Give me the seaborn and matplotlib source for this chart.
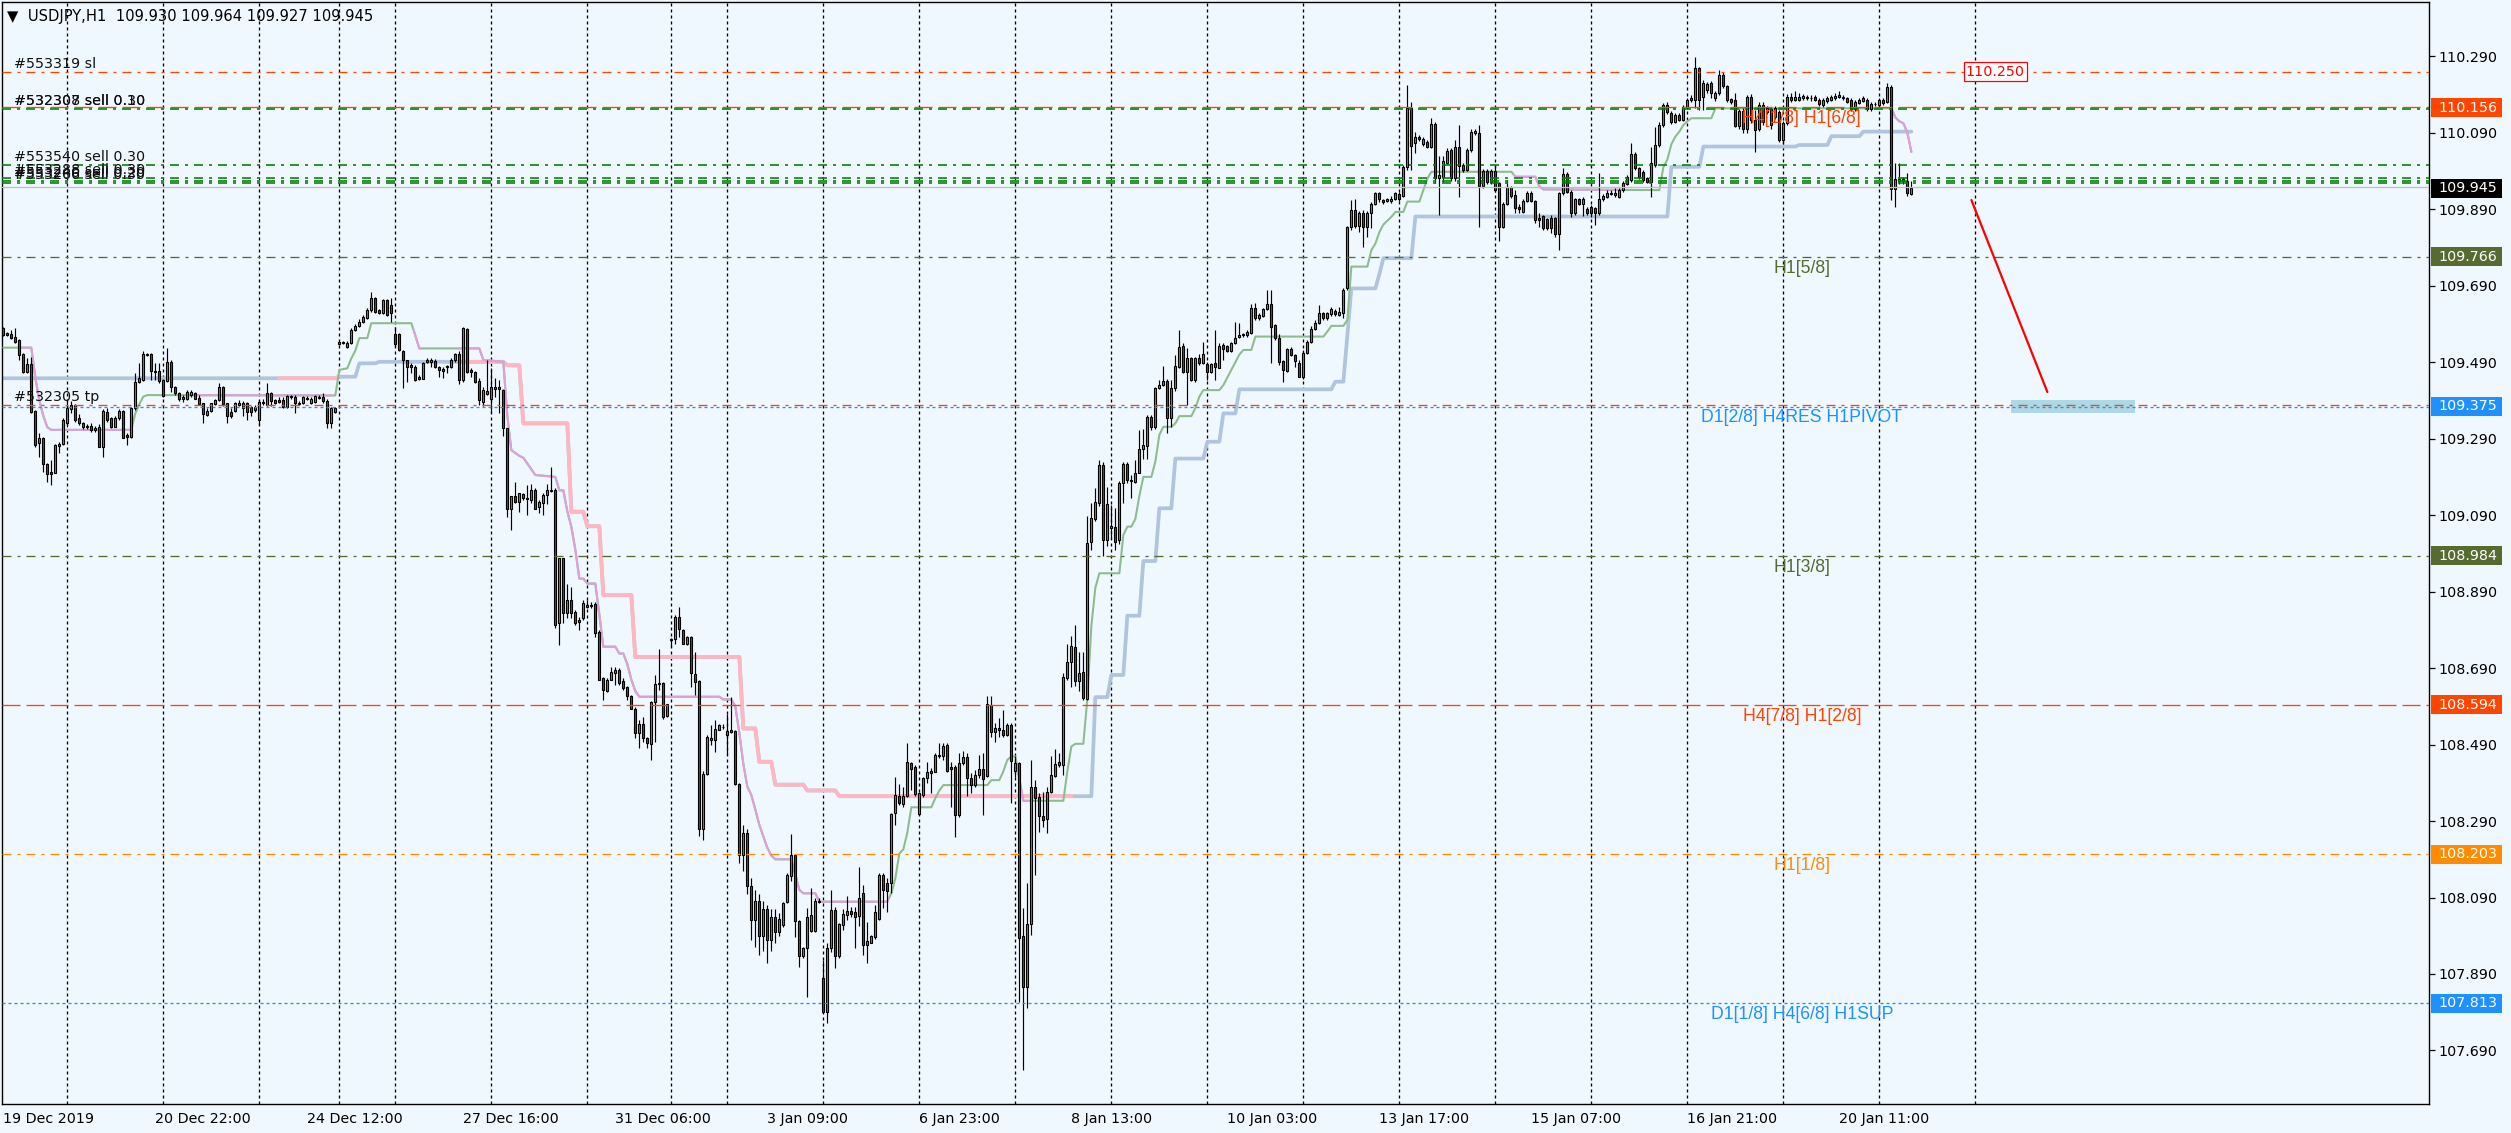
import numpy as np
import matplotlib
matplotlib.use("Agg")
import matplotlib.pyplot as plt
import matplotlib.transforms as mtransforms
from matplotlib.patches import Rectangle
import seaborn as sns

# ---- USDJPY H1 candles, bar 0 = 19 Dec 2019 ----
opens = [
    109.579, 109.567, 109.564, 109.555, 109.548, 109.511, 109.465, 109.485, 109.362, 109.278,
    109.291, 109.224, 109.203, 109.201, 109.271, 109.276, 109.332, 109.368, 109.377, 109.343,
    109.332, 109.323, 109.323, 109.313, 109.321, 109.269, 109.361, 109.343, 109.321, 109.343,
    109.362, 109.300, 109.295, 109.369, 109.439, 109.443, 109.508, 109.511, 109.468, 109.468,
    109.443, 109.442, 109.491, 109.426, 109.409, 109.395, 109.393, 109.404, 109.409, 109.397,
    109.382, 109.352, 109.363, 109.381, 109.391, 109.426, 109.382, 109.361, 109.363, 109.378,
    109.384, 109.384, 109.372, 109.365, 109.339, 109.382, 109.378, 109.409, 109.391, 109.391,
    109.391, 109.372, 109.398, 109.400, 109.381, 109.382, 109.394, 109.384, 109.387, 109.396,
    109.400, 109.389, 109.330, 109.361, 109.538, 109.539, 109.531, 109.539, 109.574, 109.585,
    109.596, 109.605, 109.627, 109.657, 109.627, 109.618, 109.653, 109.640, 109.564, 109.565,
    109.519, 109.496, 109.483, 109.478, 109.452, 109.447, 109.491, 109.491, 109.494, 109.477,
    109.473, 109.480, 109.478, 109.496, 109.511, 109.443, 109.576, 109.470, 109.465, 109.442,
    109.387, 109.408, 109.395, 109.421, 109.424, 109.417, 109.317, 109.107, 109.140, 109.125,
    109.145, 109.134, 109.129, 109.157, 109.110, 109.121, 109.142, 109.154, 109.155, 108.807,
    108.977, 108.835, 108.869, 108.837, 108.811, 108.820, 108.849, 108.855, 108.857, 108.785,
    108.663, 108.631, 108.660, 108.678, 108.685, 108.657, 108.641, 108.617, 108.584, 108.519,
    108.545, 108.508, 108.491, 108.602, 108.648, 108.651, 108.564, 108.763, 108.765, 108.824,
    108.789, 108.754, 108.772, 108.674, 108.657, 108.270, 108.414, 108.501, 108.501, 108.529,
    108.535, 108.515, 108.523, 108.526, 108.388, 108.200, 108.260, 108.120, 108.030, 108.080,
    107.990, 108.060, 107.980, 108.040, 108.000, 108.018, 108.079, 108.146, 108.201, 108.029,
    107.937, 107.957, 108.003, 108.003, 108.078, 107.879, 107.791, 107.957, 108.057, 107.937,
    108.019, 108.044, 108.055, 108.053, 108.042, 108.101, 107.966, 107.972, 107.988, 108.033,
    108.149, 108.129, 108.129, 108.310, 108.356, 108.334, 108.356, 108.441, 108.432, 108.309,
    108.358, 108.402, 108.415, 108.419, 108.459, 108.459, 108.488, 108.431, 108.432, 108.306,
    108.441, 108.457, 108.402, 108.384, 108.411, 108.425, 108.408, 108.593, 108.522, 108.534,
    108.528, 108.515, 108.542, 108.422, 108.441, 107.989, 107.855, 108.020, 108.378, 108.352,
    108.303, 108.295, 108.365, 108.408, 108.437, 108.437, 108.663, 108.707, 108.746, 108.657,
    108.681, 108.609, 109.021, 109.081, 109.121, 109.221, 109.024, 109.056, 109.058, 109.024,
    109.173, 109.225, 109.180, 109.177, 109.201, 109.262, 109.271, 109.347, 109.321, 109.422,
    109.430, 109.441, 109.343, 109.422, 109.478, 109.532, 109.465, 109.500, 109.443, 109.500,
    109.489, 109.485, 109.465, 109.487, 109.476, 109.535, 109.532, 109.520, 109.539, 109.555,
    109.561, 109.561, 109.567, 109.631, 109.605, 109.611, 109.628, 109.642, 109.587, 109.552,
    109.494, 109.468, 109.524, 109.509, 109.489, 109.452, 109.515, 109.544, 109.578, 109.592,
    109.618, 109.605, 109.616, 109.625, 109.613, 109.618, 109.683, 109.843, 109.888, 109.845,
    109.879, 109.843, 109.881, 109.905, 109.932, 109.914, 109.912, 109.912, 109.918, 109.930,
    109.925, 110.001, 110.154, 110.062, 110.078, 110.061, 110.067, 110.054, 110.113, 109.971,
    109.975, 110.012, 110.045, 109.971, 110.052, 110.006, 109.993, 110.045, 110.090, 110.090,
    109.951, 109.991, 109.960, 109.991, 109.959, 109.844, 109.905, 109.947, 109.927, 109.897,
    109.884, 109.912, 109.933, 109.912, 109.866, 109.872, 109.864, 109.866, 109.866, 109.825,
    109.932, 109.982, 109.936, 109.879, 109.916, 109.904, 109.890, 109.897, 109.892, 109.879,
    109.916, 109.923, 109.930, 109.927, 109.923, 109.940, 109.957, 109.966, 110.034, 109.997,
    109.988, 109.971, 109.962, 110.006, 110.058, 110.110, 110.163, 110.141, 110.119, 110.137,
    110.124, 110.157, 110.176, 110.176, 110.259, 110.184, 110.202, 110.219, 110.180, 110.193,
    110.241, 110.212, 110.178, 110.176, 110.108, 110.148, 110.099, 110.184, 110.123, 110.100,
    110.163, 110.145, 110.151, 110.132, 110.145, 110.070, 110.116, 110.184, 110.177, 110.177,
    110.182, 110.181, 110.180, 110.183, 110.177, 110.163, 110.172, 110.176, 110.180, 110.184,
    110.184, 110.180, 110.176, 110.151, 110.169, 110.174, 110.176, 110.151, 110.165, 110.163,
    110.176, 110.171, 110.209, 109.942, 109.968, 109.965, 109.965, 109.930,
]
highs = [
    109.583, 109.570, 109.574, 109.579, 109.550, 109.513, 109.500, 109.503, 109.365, 109.304,
    109.295, 109.227, 109.234, 109.276, 109.282, 109.343, 109.389, 109.389, 109.381, 109.354,
    109.334, 109.328, 109.330, 109.323, 109.328, 109.367, 109.371, 109.346, 109.348, 109.367,
    109.365, 109.306, 109.374, 109.461, 109.487, 109.518, 109.515, 109.513, 109.489, 109.489,
    109.445, 109.526, 109.496, 109.428, 109.413, 109.404, 109.417, 109.417, 109.413, 109.404,
    109.384, 109.369, 109.384, 109.395, 109.435, 109.428, 109.384, 109.369, 109.387, 109.391,
    109.389, 109.387, 109.375, 109.378, 109.391, 109.393, 109.435, 109.413, 109.395, 109.400,
    109.398, 109.404, 109.404, 109.404, 109.389, 109.402, 109.402, 109.400, 109.404, 109.404,
    109.409, 109.393, 109.374, 109.372, 109.545, 109.545, 109.545, 109.579, 109.589, 109.602,
    109.613, 109.631, 109.674, 109.660, 109.630, 109.654, 109.654, 109.657, 109.583, 109.567,
    109.522, 109.497, 109.487, 109.483, 109.456, 109.491, 109.500, 109.501, 109.499, 109.480,
    109.477, 109.483, 109.500, 109.515, 109.518, 109.583, 109.579, 109.474, 109.468, 109.448,
    109.426, 109.497, 109.474, 109.448, 109.443, 109.419, 109.319, 109.140, 109.177, 109.149,
    109.149, 109.169, 109.171, 109.160, 109.129, 109.147, 109.171, 109.216, 109.160, 108.977,
    108.978, 108.911, 108.901, 108.842, 108.824, 108.868, 108.868, 108.863, 108.863, 108.789,
    108.667, 108.663, 108.693, 108.692, 108.689, 108.663, 108.643, 108.619, 108.587, 108.554,
    108.562, 108.510, 108.604, 108.671, 108.741, 108.654, 108.597, 108.770, 108.828, 108.850,
    108.791, 108.774, 108.774, 108.733, 108.660, 108.420, 108.514, 108.541, 108.554, 108.545,
    108.545, 108.571, 108.615, 108.529, 108.390, 108.280, 108.270, 108.140, 108.110, 108.100,
    108.080, 108.070, 108.060, 108.060, 108.050, 108.079, 108.153, 108.256, 108.203, 108.031,
    107.961, 108.062, 108.114, 108.088, 108.088, 107.927, 107.970, 108.110, 108.066, 108.023,
    108.059, 108.094, 108.066, 108.066, 108.169, 108.123, 108.027, 107.992, 108.070, 108.153,
    108.153, 108.140, 108.310, 108.406, 108.387, 108.380, 108.495, 108.445, 108.437, 108.367,
    108.406, 108.445, 108.428, 108.469, 108.493, 108.495, 108.493, 108.445, 108.437, 108.469,
    108.472, 108.467, 108.415, 108.424, 108.463, 108.469, 108.616, 108.616, 108.546, 108.559,
    108.581, 108.546, 108.546, 108.459, 108.445, 108.062, 108.129, 108.450, 108.397, 108.363,
    108.367, 108.380, 108.459, 108.478, 108.469, 108.678, 108.753, 108.774, 108.803, 108.733,
    108.733, 109.088, 109.121, 109.160, 109.234, 109.228, 109.164, 109.117, 109.108, 109.180,
    109.229, 109.229, 109.195, 109.234, 109.313, 109.314, 109.352, 109.352, 109.424, 109.443,
    109.480, 109.445, 109.443, 109.509, 109.574, 109.539, 109.526, 109.504, 109.504, 109.511,
    109.544, 109.490, 109.487, 109.574, 109.539, 109.539, 109.535, 109.544, 109.596, 109.592,
    109.567, 109.574, 109.642, 109.644, 109.618, 109.633, 109.680, 109.680, 109.591, 109.565,
    109.496, 109.526, 109.531, 109.511, 109.496, 109.522, 109.548, 109.585, 109.600, 109.640,
    109.622, 109.622, 109.635, 109.630, 109.635, 109.683, 109.845, 109.914, 109.916, 109.885,
    109.888, 109.885, 109.910, 109.936, 109.936, 109.918, 109.920, 109.925, 109.936, 109.934,
    110.006, 110.215, 110.171, 110.093, 110.085, 110.080, 110.072, 110.128, 110.118, 110.028,
    110.028, 110.050, 110.050, 110.071, 110.110, 110.010, 110.050, 110.100, 110.100, 110.110,
    109.996, 109.996, 109.996, 110.006, 109.962, 109.910, 109.966, 109.950, 109.940, 109.905,
    109.918, 109.938, 109.938, 109.915, 109.879, 109.876, 109.868, 109.875, 109.870, 109.936,
    109.997, 109.988, 109.940, 109.920, 109.920, 109.922, 109.895, 109.900, 109.896, 109.984,
    109.930, 109.940, 109.940, 109.945, 109.946, 109.965, 109.980, 110.064, 110.040, 110.000,
    109.992, 109.975, 110.054, 110.106, 110.118, 110.168, 110.170, 110.148, 110.142, 110.141,
    110.162, 110.180, 110.190, 110.289, 110.262, 110.228, 110.222, 110.225, 110.200, 110.254,
    110.250, 110.216, 110.182, 110.195, 110.152, 110.155, 110.190, 110.192, 110.150, 110.170,
    110.170, 110.160, 110.158, 110.160, 110.150, 110.120, 110.192, 110.195, 110.200, 110.195,
    110.192, 110.190, 110.188, 110.188, 110.180, 110.180, 110.186, 110.190, 110.195, 110.200,
    110.190, 110.184, 110.180, 110.176, 110.182, 110.186, 110.180, 110.170, 110.170, 110.180,
    110.180, 110.221, 110.215, 110.012, 110.010, 109.975, 109.985, 109.964,
]
lows = [
    109.559, 109.559, 109.550, 109.541, 109.496, 109.463, 109.461, 109.358, 109.269, 109.243,
    109.204, 109.177, 109.169, 109.199, 109.252, 109.273, 109.321, 109.358, 109.334, 109.326,
    109.314, 109.314, 109.308, 109.308, 109.267, 109.243, 109.334, 109.317, 109.320, 109.340,
    109.291, 109.273, 109.293, 109.365, 109.435, 109.442, 109.506, 109.443, 109.443, 109.435,
    109.400, 109.439, 109.413, 109.404, 109.389, 109.387, 109.391, 109.400, 109.393, 109.378,
    109.332, 109.348, 109.361, 109.378, 109.389, 109.375, 109.330, 109.343, 109.361, 109.375,
    109.348, 109.339, 109.348, 109.361, 109.326, 109.378, 109.375, 109.375, 109.381, 109.382,
    109.369, 109.369, 109.395, 109.356, 109.378, 109.381, 109.391, 109.381, 109.384, 109.393,
    109.384, 109.317, 109.317, 109.358, 109.535, 109.537, 109.526, 109.537, 109.572, 109.583,
    109.592, 109.602, 109.622, 109.618, 109.615, 109.616, 109.611, 109.596, 109.531, 109.520,
    109.422, 109.439, 109.461, 109.441, 109.443, 109.445, 109.489, 109.478, 109.474, 109.452,
    109.448, 109.461, 109.474, 109.491, 109.433, 109.439, 109.463, 109.452, 109.435, 109.378,
    109.375, 109.404, 109.358, 109.400, 109.358, 109.297, 109.086, 109.051, 109.121, 109.099,
    109.129, 109.090, 109.121, 109.105, 109.096, 109.090, 109.119, 109.151, 108.794, 108.750,
    108.807, 108.820, 108.820, 108.802, 108.789, 108.817, 108.846, 108.846, 108.772, 108.658,
    108.606, 108.628, 108.658, 108.645, 108.645, 108.634, 108.606, 108.582, 108.506, 108.480,
    108.497, 108.480, 108.449, 108.497, 108.632, 108.558, 108.562, 108.746, 108.754, 108.772,
    108.753, 108.750, 108.641, 108.619, 108.250, 108.240, 108.410, 108.488, 108.471, 108.528,
    108.530, 108.462, 108.519, 108.384, 108.180, 108.160, 108.100, 107.980, 107.960, 107.940,
    107.950, 107.920, 107.950, 107.970, 107.990, 108.014, 108.075, 108.132, 107.988, 107.907,
    107.931, 107.831, 108.001, 108.001, 108.075, 107.791, 107.761, 107.948, 107.905, 107.931,
    108.005, 108.031, 108.040, 107.957, 108.016, 107.940, 107.918, 107.970, 107.981, 108.031,
    108.062, 108.053, 108.101, 108.280, 108.332, 108.328, 108.354, 108.371, 108.356, 108.306,
    108.354, 108.390, 108.364, 108.417, 108.454, 108.450, 108.419, 108.328, 108.249, 108.300,
    108.437, 108.356, 108.363, 108.380, 108.402, 108.306, 108.404, 108.511, 108.498, 108.511,
    108.511, 108.513, 108.336, 108.406, 107.818, 107.639, 107.800, 107.992, 108.149, 108.262,
    108.275, 108.260, 108.363, 108.406, 108.432, 108.411, 108.659, 108.640, 108.642, 108.629,
    108.607, 108.607, 109.000, 109.075, 109.115, 108.983, 109.010, 109.027, 109.000, 109.015,
    109.121, 109.173, 109.136, 109.173, 109.199, 109.238, 109.238, 109.313, 109.314, 109.419,
    109.428, 109.304, 109.321, 109.415, 109.474, 109.462, 109.378, 109.441, 109.439, 109.483,
    109.485, 109.443, 109.462, 109.443, 109.474, 109.496, 109.517, 109.517, 109.537, 109.552,
    109.557, 109.557, 109.565, 109.600, 109.600, 109.609, 109.626, 109.487, 109.548, 109.483,
    109.439, 109.465, 109.506, 109.478, 109.450, 109.445, 109.511, 109.541, 109.575, 109.590,
    109.600, 109.600, 109.612, 109.612, 109.610, 109.605, 109.680, 109.835, 109.840, 109.831,
    109.792, 109.818, 109.840, 109.900, 109.910, 109.905, 109.908, 109.906, 109.914, 109.912,
    109.923, 109.993, 109.993, 110.036, 110.068, 110.055, 110.050, 110.050, 109.958, 109.875,
    109.962, 110.008, 109.965, 109.965, 109.923, 109.988, 109.990, 110.040, 110.085, 109.844,
    109.945, 109.955, 109.955, 109.935, 109.808, 109.840, 109.900, 109.920, 109.879, 109.879,
    109.880, 109.908, 109.908, 109.853, 109.844, 109.836, 109.835, 109.827, 109.818, 109.783,
    109.928, 109.932, 109.871, 109.875, 109.900, 109.872, 109.875, 109.870, 109.849, 109.875,
    109.912, 109.920, 109.926, 109.922, 109.920, 109.936, 109.953, 109.962, 109.992, 109.970,
    109.960, 109.958, 109.923, 110.000, 110.054, 110.105, 110.140, 110.112, 110.115, 110.120,
    110.120, 110.152, 110.170, 110.154, 110.150, 110.150, 110.195, 110.180, 110.172, 110.188,
    110.208, 110.170, 110.166, 110.106, 110.100, 110.089, 110.090, 110.115, 110.041, 110.095,
    110.110, 110.140, 110.100, 110.126, 110.065, 110.060, 110.110, 110.170, 110.172, 110.174,
    110.176, 110.176, 110.174, 110.172, 110.160, 110.158, 110.168, 110.172, 110.176, 110.180,
    110.177, 110.167, 110.146, 110.146, 110.165, 110.170, 110.146, 110.146, 110.160, 110.158,
    110.162, 110.167, 109.914, 109.897, 109.955, 109.955, 109.925, 109.927,
]
closes = [
    109.561, 109.560, 109.552, 109.543, 109.509, 109.465, 109.485, 109.361, 109.273, 109.291,
    109.224, 109.197, 109.197, 109.273, 109.276, 109.340, 109.369, 109.378, 109.339, 109.330,
    109.321, 109.320, 109.313, 109.319, 109.269, 109.362, 109.339, 109.321, 109.343, 109.363,
    109.293, 109.295, 109.369, 109.439, 109.448, 109.511, 109.511, 109.468, 109.464, 109.442,
    109.402, 109.491, 109.426, 109.409, 109.393, 109.398, 109.413, 109.413, 109.395, 109.381,
    109.354, 109.363, 109.382, 109.391, 109.426, 109.381, 109.349, 109.348, 109.382, 109.384,
    109.369, 109.359, 109.359, 109.372, 109.387, 109.386, 109.409, 109.389, 109.384, 109.387,
    109.372, 109.402, 109.401, 109.384, 109.384, 109.398, 109.396, 109.395, 109.402, 109.400,
    109.388, 109.330, 109.369, 109.369, 109.543, 109.543, 109.541, 109.574, 109.585, 109.596,
    109.607, 109.627, 109.657, 109.622, 109.618, 109.653, 109.613, 109.618, 109.537, 109.522,
    109.496, 109.478, 109.477, 109.443, 109.445, 109.489, 109.496, 109.497, 109.477, 109.470,
    109.468, 109.477, 109.497, 109.511, 109.443, 109.579, 109.465, 109.465, 109.439, 109.391,
    109.417, 109.414, 109.424, 109.424, 109.419, 109.317, 109.107, 109.140, 109.125, 109.147,
    109.134, 109.131, 109.157, 109.107, 109.125, 109.142, 109.157, 109.157, 108.802, 108.977,
    108.835, 108.869, 108.835, 108.808, 108.817, 108.859, 108.855, 108.852, 108.782, 108.660,
    108.634, 108.660, 108.680, 108.685, 108.651, 108.639, 108.617, 108.584, 108.519, 108.545,
    108.506, 108.493, 108.602, 108.648, 108.651, 108.562, 108.596, 108.767, 108.824, 108.791,
    108.754, 108.772, 108.676, 108.654, 108.270, 108.414, 108.510, 108.508, 108.532, 108.541,
    108.537, 108.525, 108.528, 108.386, 108.200, 108.260, 108.120, 108.030, 108.080, 107.990,
    108.060, 107.980, 108.040, 108.000, 108.035, 108.075, 108.149, 108.201, 108.029, 107.937,
    107.959, 108.038, 108.044, 108.082, 108.082, 107.791, 107.957, 108.057, 107.937, 108.021,
    108.046, 108.055, 108.047, 108.040, 108.090, 107.966, 107.975, 107.989, 108.051, 108.149,
    108.110, 108.108, 108.309, 108.358, 108.336, 108.356, 108.445, 108.425, 108.360, 108.363,
    108.402, 108.417, 108.422, 108.462, 108.462, 108.486, 108.422, 108.425, 108.306, 108.441,
    108.457, 108.402, 108.384, 108.411, 108.425, 108.399, 108.595, 108.522, 108.534, 108.527,
    108.515, 108.542, 108.448, 108.441, 107.983, 107.855, 108.020, 108.378, 108.350, 108.302,
    108.293, 108.367, 108.411, 108.439, 108.445, 108.666, 108.707, 108.748, 108.657, 108.678,
    108.611, 109.018, 109.082, 109.125, 109.221, 109.024, 109.120, 109.062, 109.021, 109.173,
    109.225, 109.183, 109.183, 109.201, 109.262, 109.273, 109.347, 109.321, 109.422, 109.430,
    109.441, 109.343, 109.422, 109.480, 109.529, 109.465, 109.500, 109.443, 109.500, 109.487,
    109.511, 109.465, 109.485, 109.478, 109.532, 109.524, 109.520, 109.541, 109.552, 109.561,
    109.564, 109.570, 109.631, 109.605, 109.613, 109.628, 109.642, 109.583, 109.552, 109.491,
    109.470, 109.524, 109.509, 109.494, 109.452, 109.515, 109.544, 109.578, 109.592, 109.618,
    109.605, 109.618, 109.628, 109.616, 109.622, 109.680, 109.843, 109.888, 109.845, 109.879,
    109.843, 109.881, 109.905, 109.932, 109.916, 109.910, 109.916, 109.918, 109.932, 109.916,
    110.001, 110.154, 110.055, 110.078, 110.073, 110.073, 110.054, 110.113, 109.971, 109.980,
    110.017, 110.043, 109.971, 110.054, 110.003, 109.993, 110.045, 110.093, 110.095, 109.951,
    109.991, 109.960, 109.991, 109.940, 109.844, 109.905, 109.947, 109.925, 109.892, 109.890,
    109.912, 109.933, 109.912, 109.862, 109.862, 109.840, 109.840, 109.840, 109.825, 109.932,
    109.982, 109.936, 109.879, 109.916, 109.904, 109.918, 109.879, 109.879, 109.879, 109.918,
    109.925, 109.933, 109.933, 109.933, 109.940, 109.959, 109.975, 110.034, 109.997, 109.975,
    109.966, 109.962, 110.010, 110.058, 110.110, 110.163, 110.145, 110.119, 110.137, 110.124,
    110.157, 110.176, 110.180, 110.259, 110.176, 110.219, 110.217, 110.193, 110.195, 110.241,
    110.212, 110.176, 110.171, 110.108, 110.148, 110.099, 110.184, 110.123, 110.097, 110.163,
    110.119, 110.154, 110.110, 110.154, 110.070, 110.116, 110.184, 110.176, 110.184, 110.184,
    110.185, 110.184, 110.181, 110.176, 110.165, 110.176, 110.180, 110.184, 110.186, 110.189,
    110.181, 110.171, 110.151, 110.171, 110.177, 110.182, 110.151, 110.165, 110.166, 110.176,
    110.167, 110.209, 109.942, 109.968, 109.965, 109.968, 109.933, 109.945,
]

# fast trailing line (thin): breakpoints (bar, price)
thin_bar = [0, 7, 8, 9, 10, 11, 12, 32, 33, 34,
            35, 36, 83, 84, 86, 87, 88, 89, 91, 92,
            102, 103, 104, 119, 120, 125, 126, 127, 129, 130,
            133, 138, 139, 140, 141, 142, 143, 144, 145, 146,
            148, 149, 150, 153, 154, 155, 156, 157, 158, 159,
            179, 180, 182, 183, 184, 185, 186, 187, 188, 189,
            190, 191, 192, 193, 197, 198, 199, 200, 203, 204,
            221, 222, 223, 224, 225, 226, 227, 232, 233, 234,
            235, 246, 247, 249, 250, 251, 252, 253, 254, 255,
            265, 266, 267, 268, 270, 271, 272, 273, 274, 279,
            280, 281, 282, 283, 284, 285, 287, 288, 289, 290,
            292, 293, 294, 297, 298, 299, 300, 304, 305, 306,
            307, 308, 309, 310, 312, 313, 330, 331, 332, 335,
            336, 337, 341, 342, 343, 344, 345, 347, 348, 350,
            351, 354, 355, 356, 357, 377, 378, 383, 384, 385,
            414, 415, 416, 417, 418, 419, 420, 421, 422, 427,
            428, 472, 473, 474, 475, 476, 477]
thin_val = [109.528, 109.528, 109.45, 109.39, 109.35, 109.32, 109.313, 109.313, 109.356, 109.38,
            109.40, 109.404, 109.403, 109.470, 109.474, 109.50, 109.52, 109.553, 109.553, 109.592,
            109.592, 109.56, 109.526, 109.526, 109.496, 109.491, 109.35, 109.26, 109.245, 109.24,
            109.195, 109.190, 109.155, 109.155, 109.10, 109.06, 109.00, 108.924, 108.924, 108.911,
            108.911, 108.83, 108.746, 108.746, 108.728, 108.728, 108.70, 108.66, 108.63, 108.615,
            108.615, 108.608, 108.608, 108.59, 108.52, 108.44, 108.38, 108.358, 108.32, 108.28,
            108.25, 108.22, 108.20, 108.190, 108.190, 108.15, 108.11, 108.101, 108.101, 108.079,
            108.079, 108.101, 108.14, 108.205, 108.216, 108.26, 108.326, 108.326, 108.35, 108.37,
            108.384, 108.384, 108.397, 108.397, 108.42, 108.450, 108.459, 108.459, 108.40, 108.343,
            108.343, 108.42, 108.485, 108.492, 108.492, 108.61, 108.80, 108.90, 108.938, 108.938,
            109.038, 109.060, 109.060, 109.08, 109.14, 109.190, 109.190, 109.23, 109.30, 109.321,
            109.321, 109.33, 109.349, 109.349, 109.37, 109.40, 109.417, 109.417, 109.43, 109.45,
            109.47, 109.49, 109.51, 109.522, 109.522, 109.557, 109.557, 109.57, 109.585, 109.585,
            109.60, 109.740, 109.740, 109.783, 109.80, 109.83, 109.85, 109.87, 109.883, 109.883,
            109.910, 109.910, 109.94, 109.97, 109.988, 109.988, 109.975, 109.975, 109.95, 109.942,
            109.940, 110.00, 110.02, 110.06, 110.08, 110.093, 110.11, 110.12, 110.128, 110.128,
            110.154, 110.154, 110.13, 110.12, 110.115, 110.09, 110.04]
thin_down_runs = [(4, 32), (49, 82), (103, 104), (114, 221), (254, 256), (378, 404), (472, 477)]

# slow trailing line (thick): breakpoints
thick_bar = [0, 83, 84, 88, 89, 93, 94, 125, 126, 129,
             130, 141, 142, 145, 146, 149, 150, 157, 158, 184,
             185, 188, 189, 192, 193, 200, 201, 208, 209, 272,
             273, 276, 277, 280, 281, 284, 285, 288, 289, 292,
             293, 300, 301, 304, 305, 308, 309, 332, 333, 335,
             336, 337, 343, 344, 345, 352, 353, 416, 417, 424,
             425, 448, 449, 456, 457, 464, 465, 477]
thick_val = [109.448, 109.448, 109.452, 109.452, 109.487, 109.487, 109.491, 109.491, 109.482, 109.482,
             109.330, 109.330, 109.099, 109.099, 109.061, 109.061, 108.881, 108.881, 108.719, 108.719,
             108.532, 108.532, 108.445, 108.445, 108.385, 108.385, 108.370, 108.370, 108.355, 108.355,
             108.614, 108.614, 108.672, 108.672, 108.827, 108.827, 108.970, 108.970, 109.108, 109.108,
             109.238, 109.238, 109.282, 109.282, 109.356, 109.356, 109.419, 109.419, 109.439, 109.439,
             109.56, 109.683, 109.683, 109.72, 109.762, 109.762, 109.871, 109.871, 110.001, 110.001,
             110.054, 110.054, 110.058, 110.058, 110.081, 110.081, 110.093, 110.093]
thick_down_runs = [(69, 83), (116, 267)]

# day separators and time axis
day_grid = [16, 40, 64, 84, 98, 122, 146, 167, 181, 205, 229, 253, 277,
            301, 325, 349, 373, 397, 421, 445, 469, 493]
tick_bars = [0, 38, 76, 115, 153, 191, 229, 267, 306, 344, 382, 421, 459]
tick_labels = ["19 Dec 2019", "20 Dec 22:00", "24 Dec 12:00", "27 Dec 16:00",
               "31 Dec 06:00", "3 Jan 09:00", "6 Jan 23:00", "8 Jan 13:00",
               "10 Jan 03:00", "13 Jan 17:00", "15 Jan 07:00", "16 Jan 21:00",
               "20 Jan 11:00"]
price_ticks = [107.69, 107.89, 108.09, 108.29, 108.49, 108.69, 108.89,
               109.09, 109.29, 109.49, 109.69, 109.89, 110.09, 110.29]

# horizontal levels
level_prices = [110.250, 110.158, 110.151, 110.006, 109.971, 109.965, 109.958,
                109.947, 109.766, 109.378, 109.373, 108.984, 108.594, 108.203, 107.813]
level_colors = ["#FF4500", "#FF4500", "#008000", "#008000", "#008000", "#008000", "#008000",
                "#C0C0C0", "#556B2F", "#FF4500", "#1E90FF", "#556B2F", "#FF4500", "#FF8C00", "#1E90FF"]
level_styles = ["dashdot", "dash", "dashdot", "dashdot", "dashdot", "dashdot", "dashdot",
                "solid", "dashdot", "dashdot", "dot", "dashdot", "dash", "dashdot", "dot"]

murrey_prices = [110.158, 109.766, 109.375, 108.984, 108.594, 108.203, 107.813]
murrey_texts = ["H4[1/8] H1[6/8]", "H1[5/8]", "D1[2/8] H4RES H1PIVOT", "H1[3/8]",
                "H4[7/8] H1[2/8]", "H1[1/8]", "D1[1/8] H4[6/8] H1SUP"]
murrey_colors = ["#FF4500", "#556B2F", "#1E90FF", "#556B2F", "#FF4500", "#FF8C00", "#1E90FF"]

box_prices = [110.156, 109.945, 109.766, 109.375, 108.984, 108.594, 108.203, 107.813]
box_colors = ["#FF4500", "#000000", "#556B2F", "#1E90FF", "#556B2F", "#FF4500", "#FF8C00", "#1E90FF"]

order_prices = [110.250, 110.151, 110.151, 110.006, 109.971, 109.965, 109.958, 109.378]
order_texts = ["#553319 sl", "#532308 sell 0.30", "#532307 sell 0.10", "#553540 sell 0.30",
               "#553288 sell 0.30", "#553240 sell 0.20", "#553266 sell 0.30", "#532305 tp"]

arrow_bar = [492, 511]
arrow_price = [109.914, 109.412]
zone_bar = [502, 533]
zone_price = [109.358, 109.391]
sl_tag_bar = 498
sl_tag_price = 110.250

# ------------------------------------------------------------------
sns.set_style("white")
plt.rcParams["font.family"] = ["DejaVu Sans"]
plt.rcParams["lines.scale_dashes"] = False

BG = "#F0F8FF"
PX = 0.72           # one pixel in points at dpi 100
LW = 0.95           # level / grid line width
DASHES = {"dash": (0, (18 * PX, 6 * PX)),
          "dot": (0, (3 * PX, 3 * PX)),
          "dashdot": (0, (9 * PX, 6 * PX, 3 * PX, 6 * PX)),
          "solid": "-"}

fig = plt.figure(figsize=(25.11, 11.33), dpi=100)
fig.patch.set_facecolor(BG)
ax = fig.add_axes([2 / 2511, 29 / 1133, 2427 / 2511, 1102 / 1133])
ax.set_facecolor(BG)
ax.set_xlim(-0.325, 606.4)
ax.set_ylim(107.550, 110.432)
for sp in ax.spines.values():
    sp.set_color("black")
    sp.set_linewidth(1.0)

for g in day_grid:
    ax.axvline(g, color="black", lw=LW, ls=DASHES["dot"], zorder=1)

ax.add_patch(Rectangle((zone_bar[0], zone_price[0]), zone_bar[1] - zone_bar[0],
                       zone_price[1] - zone_price[0], facecolor="#ADD8E6",
                       edgecolor="none", zorder=1.5))

# trailing lines
def draw_trail(xs, ys, runs, up_color, down_color, lw, z):
    sns.lineplot(x=xs, y=ys, ax=ax, color=up_color, lw=lw, estimator=None,
                 sort=False, zorder=z)
    for a, b in runs:
        ln, = ax.plot(xs, ys, color=down_color, lw=lw, zorder=z + 0.1)
        ln.set_clip_path(Rectangle((a - 0.5, 100), b - a + 1, 20, transform=ax.transData))

draw_trail(thick_bar, thick_val, thick_down_runs, "#B0C4DE", "#FFB6C1", 2.7, 2.5)
draw_trail(thin_bar, thin_val, thin_down_runs, "#8FBC8F", "#DDA0DD", 1.5, 2.8)

# candles
n = min(len(opens), len(highs), len(lows), len(closes))
o = np.array(opens[:n]); h = np.array(highs[:n]); l = np.array(lows[:n]); c = np.array(closes[:n])
x = np.arange(n)
h = np.maximum(h, np.maximum(o, c))
l = np.minimum(l, np.minimum(o, c))
ax.vlines(x, l, h, color="black", lw=0.85, zorder=4)
bottom = np.minimum(o, c)
height = np.maximum(np.abs(c - o), 0.0015)
face = np.where(c >= o, "#32B832", "#E8141B")
ax.bar(x, height, bottom=bottom, width=0.5, color=face, edgecolor="black",
       linewidth=0.8, zorder=4.5)

# levels
for p, col, st in zip(level_prices, level_colors, level_styles):
    w = 1.15 if col == "#008000" else LW
    ax.axhline(p, color=col, lw=w, ls=DASHES[st], zorder=5)

ax.plot(arrow_bar, arrow_price, color="red", lw=1.6, zorder=5.5)

for p, t, col in zip(murrey_prices, murrey_texts, murrey_colors):
    ax.text(449.6, p - 0.008, t, color=col, ha="center", va="top", fontsize=12.7,
            family=["Liberation Sans", "DejaVu Sans"], zorder=6)

for p, t in zip(order_prices, order_texts):
    ax.text(2.7, p + 0.0105, t, color="#111111", ha="left", va="baseline",
            fontsize=10.3, zorder=6)

ax.text(sl_tag_bar, sl_tag_price, "110.250", color="#FF0000", ha="center", va="center",
        fontsize=10.3, zorder=6,
        bbox=dict(boxstyle="square,pad=0.15", fc="white", ec="#FF0000", lw=0.9))

# axes ticks
ax.yaxis.tick_right()
ax.set_yticks(price_ticks)
ax.set_yticklabels(["%.3f" % v for v in price_ticks])
ax.tick_params(axis="y", direction="out", length=4.3, width=0.9, pad=2.2,
               labelsize=10.3, colors="black", right=True, left=False)
ax.set_xticks(tick_bars)
ax.set_xticklabels(tick_labels, ha="left")
ax.tick_params(axis="x", direction="out", length=3.6, width=0.9, pad=2.2,
               labelsize=10.3, colors="black")
ax.set_xlabel("")
ax.set_ylabel("")

# price tags on the right scale
blend = mtransforms.blended_transform_factory(ax.transAxes, ax.transData)
for p, col in zip(box_prices, box_colors):
    ax.add_patch(Rectangle((1.0008, p - 0.0248), 0.0293, 0.0497, transform=blend,
                           facecolor=col, edgecolor="none", clip_on=False, zorder=7))
    ax.text(1.0037, p, "%.3f" % p, transform=blend, color="white", ha="left",
            va="center", fontsize=10.3, clip_on=False, zorder=8)

fig.text(7 / 2511, 1 - 21 / 1133, "\u25BC  USDJPY,H1  109.930 109.964 109.927 109.945",
         ha="left", va="baseline", fontsize=10.6, color="black")

fig.savefig("out.png", dpi=100, facecolor=BG)
